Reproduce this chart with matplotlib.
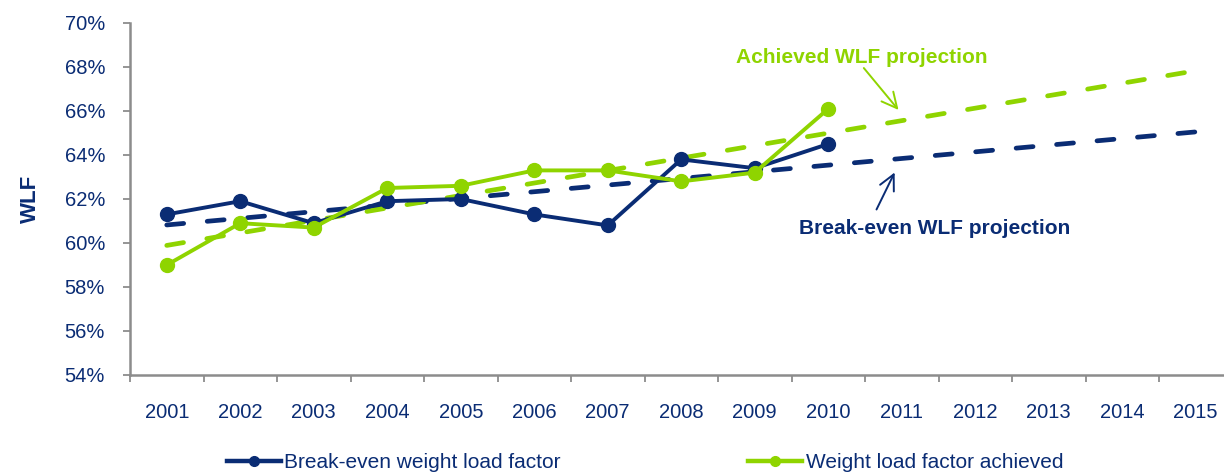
import matplotlib
matplotlib.use("Agg")
import matplotlib.pyplot as plt
from matplotlib.lines import Line2D

years = [2001, 2002, 2003, 2004, 2005, 2006, 2007, 2008, 2009, 2010,
         2011, 2012, 2013, 2014, 2015]
break_even = [61.3, 61.9, 60.9, 61.9, 62.0, 61.3, 60.8, 63.8, 63.4, 64.5]
achieved = [59.0, 60.9, 60.7, 62.5, 62.6, 63.3, 63.3, 62.8, 63.2, 66.1]

# projection lines (start/end)
proj_years = [2001, 2015]
break_even_proj = [60.82, 65.05]
achieved_proj = [59.89, 67.83]

y_ticks = [54, 56, 58, 60, 62, 64, 66, 68, 70]

NAVY = "#0a2c74"
GREEN = "#8fd400"
GREY = "#8c8c8c"

plt.rcParams["font.family"] = ["Liberation Sans", "DejaVu Sans"]

fig = plt.figure(figsize=(12.24, 4.75), dpi=100)
ax = fig.add_axes([130 / 1224, 100 / 475, 1102.5 / 1224, 352 / 475])

idx = {y: i for i, y in enumerate(years)}
xs = [idx[y] for y in years]
px = [idx[y] for y in proj_years]

ax.plot(px, break_even_proj, color=NAVY, lw=3.4, ls=(0, (3.6, 5.0)),
        dash_capstyle="round", zorder=2)
ax.plot(px, achieved_proj, color=GREEN, lw=3.4, ls=(0, (3.6, 5.0)),
        dash_capstyle="round", zorder=2)
ax.plot(xs[:len(break_even)], break_even, color=NAVY, lw=2.8, marker="o",
        ms=10, zorder=3)
ax.plot(xs[:len(achieved)], achieved, color=GREEN, lw=2.8, marker="o",
        ms=10, zorder=4)

ax.set_xlim(-0.5, len(years) - 0.5)
ax.set_ylim(54, 70)
ax.set_yticks(y_ticks)
ax.set_yticklabels(["{}%".format(v) for v in y_ticks])

ax.set_xticks([i - 0.5 for i in range(len(years) + 1)])
ax.set_xticklabels([])
ax.set_xticks(xs, minor=True)
ax.set_xticklabels([str(y) for y in years], minor=True)
ax.tick_params(axis="x", which="major", length=5, width=1.3, color=GREY,
               direction="out")
ax.tick_params(axis="x", which="minor", length=0, pad=20, labelsize=14.5,
               labelcolor=NAVY)
ax.tick_params(axis="y", length=5, width=1.3, color=GREY, pad=13,
               labelsize=14.5, labelcolor=NAVY)

for s in ["top", "right"]:
    ax.spines[s].set_visible(False)
for s in ["left", "bottom"]:
    ax.spines[s].set_color(GREY)
    ax.spines[s].set_linewidth(1.8)

fig.text(30 / 1224, (475 - 199) / 475, "WLF", rotation=90, ha="center",
         va="center", fontsize=16, fontweight="bold", color=NAVY)

ax.text(9.46, 68.45, "Achieved WLF projection", color=GREEN, fontsize=15,
        fontweight="bold", ha="center", va="center")
ax.text(10.45, 60.64, "Break-even WLF projection", color=NAVY, fontsize=15,
        fontweight="bold", ha="center", va="center")
ax.annotate("", xy=(9.98, 65.95), xytext=(9.46, 68.05),
            arrowprops=dict(arrowstyle="->,head_length=1.1,head_width=0.55",
                            color=GREEN, lw=1.4))
ax.annotate("", xy=(9.92, 63.32), xytext=(9.64, 61.41),
            arrowprops=dict(arrowstyle="->,head_length=1.1,head_width=0.55",
                            color=NAVY, lw=1.4))

handles = [Line2D([], [], color=NAVY, lw=3.2, marker="o", ms=7),
           Line2D([], [], color=GREEN, lw=3.2, marker="o", ms=7)]
fig.legend(handles, ["Break-even weight load factor", "Weight load factor achieved"],
           loc="center", bbox_to_anchor=(645 / 1224, (475 - 463) / 475),
           ncol=2, frameon=False, fontsize=15, labelcolor=NAVY,
           handlelength=2.6, handletextpad=0.15, columnspacing=9.0,
           borderpad=0)

fig.savefig("out.png", dpi=100)
